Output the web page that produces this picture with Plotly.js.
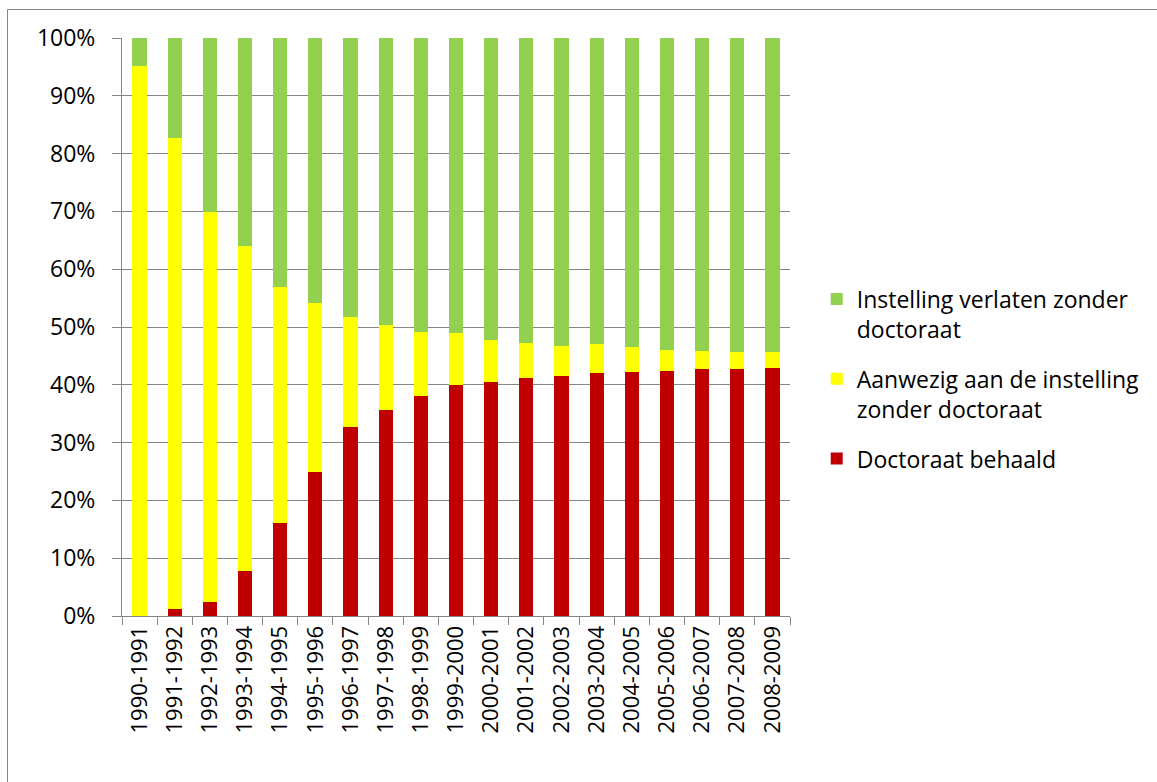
<!DOCTYPE html>
<html>
<head>
<meta charset="utf-8">
<script src="https://cdn.plot.ly/plotly-3.0.1.min.js"></script>
<style>
html,body{margin:0;padding:0;background:#fff;overflow:hidden;}
#chart{position:absolute;left:0;top:0;width:1157px;height:782px;}
</style>
</head>
<body>
<div id="chart"></div>
<script>
const categories = ["1990-1991","1991-1992","1992-1993","1993-1994","1994-1995","1995-1996","1996-1997","1997-1998","1998-1999","1999-2000","2000-2001","2001-2002","2002-2003","2003-2004","2004-2005","2005-2006","2006-2007","2007-2008","2008-2009"];
// Doctoraat behaald (%)
const doctoraatBehaald = [0.0, 1.2, 2.5, 7.8, 16.1, 25.0, 32.7, 35.7, 38.0, 40.0, 40.4, 41.1, 41.6, 42.1, 42.3, 42.4, 42.7, 42.7, 42.9];
// Aanwezig aan de instelling zonder doctoraat (%)
const aanwezig = [95.2, 81.5, 67.4, 56.3, 40.8, 29.1, 19.1, 14.6, 11.2, 8.9, 7.4, 6.1, 5.1, 4.9, 4.2, 3.7, 3.1, 2.9, 2.7];
// Instelling verlaten zonder doctoraat (%)
const verlaten = [4.8, 17.3, 30.1, 35.9, 43.1, 45.9, 48.2, 49.7, 50.8, 51.1, 52.2, 52.8, 53.3, 53.0, 53.5, 53.9, 54.2, 54.4, 54.4];
const yTicks = [0,10,20,30,40,50,60,70,80,90,100];
const yTickLabels = ["0%","10%","20%","30%","40%","50%","60%","70%","80%","90%","100%"];

const FONT = "'Open Sans', Lato, sans-serif";
const traces = [
  {type:"bar", name:"Doctoraat behaald", x:categories, y:doctoraatBehaald, marker:{color:"#C00000"}, legendgroup:"a", legendrank:3},
  {type:"bar", name:"Aanwezig aan de instelling<br>zonder doctoraat", x:categories, y:aanwezig, marker:{color:"#FFFF00"}, legendgroup:"b", legendrank:2},
  {type:"bar", name:"Instelling verlaten zonder<br>doctoraat", x:categories, y:verlaten, marker:{color:"#92D050"}, legendgroup:"c", legendrank:1}
];
const frameLine = {color:"#868686", width:1};
const layout = {
  width:1157, height:782,
  margin:{l:122, r:364, t:38, b:166},
  paper_bgcolor:"#fff", plot_bgcolor:"#fff",
  barmode:"stack", bargap:0.595,
  font:{family:FONT, size:18, color:"#000"},
  showlegend:true,
  legend:{x:1.04, xanchor:"left", y:0.41, yanchor:"middle", traceorder:"grouped", tracegroupgap:17, valign:"top",
          font:{family:FONT, size:23, color:"#000"}, bgcolor:"rgba(0,0,0,0)"},
  xaxis:{type:"category", tickangle:-90, ticks:"outside", ticklen:8, tickcolor:"#868686", tickson:"boundaries",
         showline:true, linecolor:"#868686", linewidth:1, showgrid:false, zeroline:false,
         tickfont:{family:FONT, size:22, color:"#000"}},
  yaxis:{range:[0,100], tickvals:yTicks, ticktext:yTickLabels, ticks:"outside", ticklen:9, tickcolor:"#868686",
         ticklabelstandoff:12,
         showgrid:true, gridcolor:"#868686", gridwidth:1, showline:true, linecolor:"#868686", linewidth:1,
         zeroline:false, tickfont:{family:FONT, size:23, color:"#000"}},
  shapes:[
    {type:"line", xref:"paper", yref:"paper", x0:-0.1714, x1:-0.1714, y0:1.0493, y1:-0.3, line:frameLine},
    {type:"line", xref:"paper", yref:"paper", x0:-0.1714, x1:1.6, y0:1.0493, y1:1.0493, line:frameLine}
  ]
};
Plotly.newPlot("chart", traces, layout, {displayModeBar:false, staticPlot:true});
</script>
</body>
</html>
